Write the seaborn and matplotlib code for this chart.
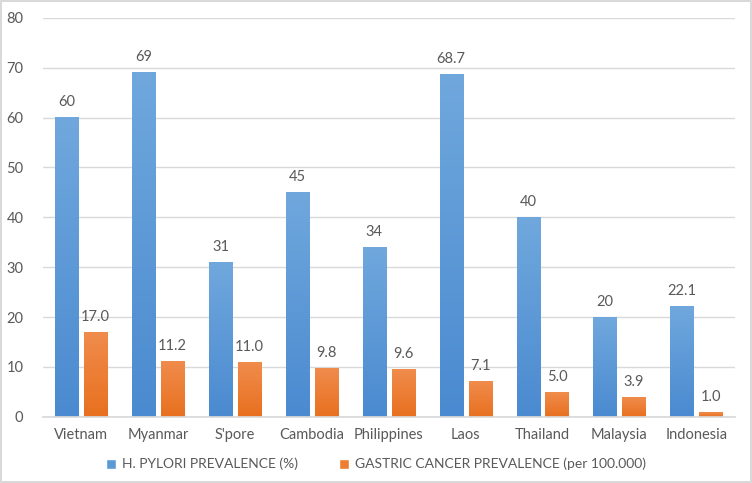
import pandas as pd
import numpy as np
import matplotlib.pyplot as plt
import seaborn as sns
from matplotlib.colors import LinearSegmentedColormap

# Data
countries = ["Vietnam", "Myanmar", "S'pore", "Cambodia", "Philippines",
             "Laos", "Thailand", "Malaysia", "Indonesia"]
hp_prevalence = [60, 69, 31, 45, 34, 68.7, 40, 20, 22.1]
gc_prevalence = [17.0, 11.2, 11.0, 9.8, 9.6, 7.1, 5.0, 3.9, 1.0]
hp_labels = ["60", "69", "31", "45", "34", "68.7", "40", "20", "22.1"]
series_names = ["H. PYLORI PREVALENCE (%)", "GASTRIC CANCER PREVALENCE (per 100.000)"]

sns.set_theme(style="white")
plt.rcParams["font.family"] = ["Lato", "DejaVu Sans"]

text_color = "#595959"
grid_color = "#d9d9d9"
# (bottom, top) colours of the Excel-style gradient fill
gradients = [("#4a8ad0", "#70a8dd"), ("#e8701f", "#f08c4c")]

df = pd.DataFrame({
    "country": countries * 2,
    "value": hp_prevalence + gc_prevalence,
    "series": [series_names[0]] * len(countries) + [series_names[1]] * len(countries),
})

fig = plt.figure(figsize=(7.52, 4.83), dpi=100)
ax = fig.add_axes([0.057, 0.137, 0.92, 0.826])

sns.barplot(data=df, x="country", y="value", hue="series",
            palette=["#5b9bd5", "#ed7d31"], width=0.75, gap=0.2,
            saturation=1, ax=ax, legend=True)

# gradient fill on each bar
ramp = np.linspace(0, 1, 256).reshape(-1, 1)
for container, (c0, c1) in zip(ax.containers, gradients):
    cmap = LinearSegmentedColormap.from_list("g", [c0, c1])
    for bar in container:
        x0, y0 = bar.get_x(), bar.get_y()
        w, h = bar.get_width(), bar.get_height()
        ax.imshow(ramp, cmap=cmap, origin="lower", aspect="auto",
                  extent=[x0, x0 + w, y0, y0 + h], zorder=bar.get_zorder())
        bar.set_alpha(0)

# value labels
ax.bar_label(ax.containers[0], labels=hp_labels, padding=6,
             color=text_color, fontsize=10.5)
ax.bar_label(ax.containers[1], labels=[f"{v:.1f}" for v in gc_prevalence],
             padding=6, color=text_color, fontsize=10.5)

ax.set_xlim(-0.5, len(countries) - 0.5)
ax.set_ylim(0, 80)
ax.set_yticks(range(0, 81, 10))
ax.yaxis.grid(True, color=grid_color, linewidth=1)
ax.set_axisbelow(True)
ax.set_xlabel("")
ax.set_ylabel("")
for s in ["top", "right", "left"]:
    ax.spines[s].set_visible(False)
ax.spines["bottom"].set_color(grid_color)
ax.tick_params(axis="both", colors=text_color, labelsize=10.5, length=0)
ax.tick_params(axis="y", pad=14)
ax.tick_params(axis="x", pad=8)

handles, labels = ax.get_legend_handles_labels()
ax.get_legend().remove()
for hnd in handles:
    hnd.set_alpha(1)
fig.legend(handles, labels, loc="lower center", ncol=2, frameon=False,
           bbox_to_anchor=(0.5, 0.0), fontsize=10, labelcolor=text_color,
           handlelength=0.7, handleheight=0.7, columnspacing=3, handletextpad=0.4)

fig.patch.set_edgecolor(grid_color)
fig.patch.set_linewidth(1.5)

fig.savefig("out.png", dpi=100, edgecolor=fig.get_edgecolor())
